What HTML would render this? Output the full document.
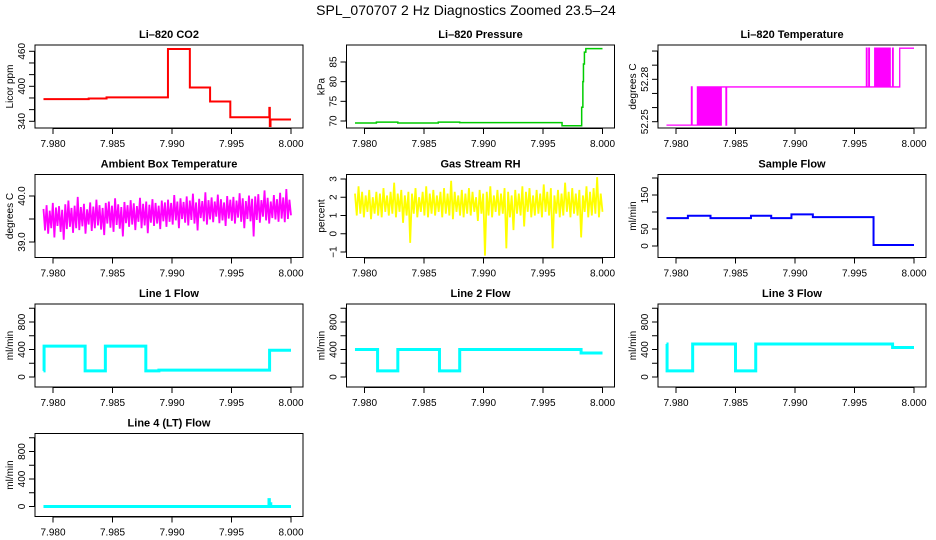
<!DOCTYPE html>
<html><head><meta charset="utf-8">
<style>
html,body{margin:0;padding:0;background:#fff;}
svg{display:block;font-family:"Liberation Sans",sans-serif;}
</style></head>
<body>
<svg id="fig" width="936" height="540" xmlns="http://www.w3.org/2000/svg">
<rect width="936" height="540" fill="#fff"/>
<text x="466" y="15" text-anchor="middle" font-size="14">SPL_070707  2 Hz Diagnostics Zoomed 23.5–24</text>
</svg>
<script>
// ---- data ----
const xTicks = [7.980, 7.985, 7.990, 7.995, 8.000];
const xTickLabels = ["7.980", "7.985", "7.990", "7.995", "8.000"];
const tStart = 7.9792, tEnd = 8.000;

const co2Times = [7.9792, 7.9830, 7.9845, 7.98966, 7.9915, 7.9932, 7.9949, 7.99818, 7.99822, 7.99828];
const co2Vals  = [378, 379, 381, 464, 398, 374, 347, 363, 332, 343];

const presTimes = [7.9792, 7.9810, 7.9828, 7.9862, 7.9880, 7.9966, 7.99825, 7.99835, 7.9984, 7.99848, 7.9986];
const presVals  = [69.5, 69.7, 69.5, 69.7, 69.6, 68.8, 73.5, 80, 84.5, 87.5, 88.4];

const tempTimes = [7.9792, 7.9813, 7.98135, 7.9818, 7.9819, 7.9820, 7.9821, 7.9822, 7.9823, 7.9824, 7.9825, 7.9826, 7.9827, 7.9828, 7.9829, 7.9830, 7.9831, 7.9832, 7.9833, 7.9834, 7.9835, 7.9836, 7.9837, 7.9838, 7.9842, 7.98425,
  7.9960, 7.99605, 7.9962, 7.99625, 7.9967, 7.9968, 7.9969, 7.9970, 7.9971, 7.9972, 7.9973, 7.9974, 7.9975, 7.9976, 7.9977, 7.9978, 7.9979, 7.9980, 7.9982, 7.99825, 7.9988, 7.99885];
const tempVals  = [52.2476, 52.2746, 52.2476, 52.2746, 52.2476, 52.2746, 52.2476, 52.2746, 52.2476, 52.2746, 52.2476, 52.2746, 52.2476, 52.2746, 52.2476, 52.2746, 52.2476, 52.2746, 52.2476, 52.2746, 52.2476, 52.2746, 52.2476, 52.2746, 52.2476, 52.2746,
  52.302, 52.2746, 52.302, 52.2746, 52.302, 52.2746, 52.302, 52.2746, 52.302, 52.2746, 52.302, 52.2746, 52.302, 52.2746, 52.302, 52.2746, 52.302, 52.2746, 52.302, 52.2746, 52.302, 52.302];

const ambVals = [39.72,39.25,39.80,39.18,39.68,39.30,39.85,39.10,39.75,39.35,39.78,39.22,39.70,39.05,39.82,39.28,39.90,39.33,39.74,39.20,39.79,39.30,39.98,39.26,39.76,39.34,39.83,39.18,39.71,39.38,39.86,39.24,39.77,39.30,39.92,39.36,39.80,39.27,39.74,39.15,39.85,39.40,39.88,39.31,39.79,39.22,39.95,39.37,39.82,39.29,39.76,39.12,39.87,39.41,39.80,39.33,39.91,39.38,39.84,39.26,39.78,39.44,39.96,39.30,39.83,39.36,39.88,39.19,39.81,39.42,39.93,39.35,39.85,39.40,39.79,39.28,39.90,39.45,39.86,39.33,
39.92,39.44,39.85,39.38,40.02,39.47,39.88,39.30,39.95,39.50,39.87,39.42,39.99,39.36,39.90,39.48,40.05,39.40,39.86,39.25,39.94,39.52,39.89,39.45,40.08,39.38,39.91,39.49,39.97,39.43,39.88,39.55,40.03,39.41,39.93,39.47,39.86,39.35,40.00,39.51,39.92,39.46,39.98,39.40,39.90,39.53,40.06,39.44,39.95,39.30,39.89,39.50,40.01,39.45,39.94,39.12,39.99,39.48,40.04,39.42,39.91,39.55,40.12,39.47,39.96,39.40,39.88,39.52,40.02,39.49,39.93,39.44,40.07,39.51,39.97,39.43,40.15,39.50,39.92,39.58];

const rhVals = [2.2,1.0,2.6,1.1,2.3,0.9,2.1,1.2,2.4,0.8,2.0,1.1,2.3,1.0,2.2,0.9,2.5,1.2,2.1,1.0,2.3,1.1,2.8,0.9,2.2,1.2,2.4,0.6,2.1,1.0,2.3,-0.5,2.2,1.1,2.5,0.9,2.0,1.2,2.3,1.0,2.6,0.9,2.2,1.1,2.4,1.0,2.1,1.2,2.3,0.9,2.5,1.1,2.2,1.0,2.9,0.8,2.3,1.2,2.1,1.0,2.4,0.9,2.2,1.1,2.5,1.0,2.3,1.2,2.0,0.7,2.4,1.1,2.2,-1.2,2.3,1.0,2.6,0.9,2.1,1.2,
2.4,1.0,2.2,1.1,2.5,-0.8,2.3,0.9,2.1,0.2,2.4,1.1,2.2,1.0,2.6,0.4,2.3,1.2,2.5,0.9,2.1,1.0,2.4,1.1,2.2,0.9,2.7,1.2,2.3,1.0,2.5,-0.8,2.1,1.1,2.4,0.9,2.2,1.0,2.8,1.2,2.3,0.9,2.5,1.1,2.2,1.0,2.4,-0.2,2.1,1.2,2.6,0.9,2.3,1.0,2.5,1.1,3.1,0.9,2.2,1.2];

const sampTimes = [7.9792, 7.9810, 7.9829, 7.9863, 7.9880, 7.9897, 7.9915, 7.9966];
const sampVals  = [82, 89, 82, 89, 82, 93, 85, 3];

const l1Times = [7.9792, 7.97925, 7.9827, 7.9844, 7.9878, 7.9889, 7.9982];
const l1Vals  = [90, 450, 90, 450, 90, 100, 390];

const l2Times = [7.9792, 7.9811, 7.9828, 7.9863, 7.9880, 7.9982];
const l2Vals  = [400, 90, 400, 90, 400, 350];

const l3Times = [7.9792, 7.97925, 7.9814, 7.9850, 7.9867, 7.9982];
const l3Vals  = [480, 90, 480, 90, 480, 430];

const l4Times = [7.9792, 7.99815, 7.99818, 7.99825, 7.9983];
const l4Vals  = [0, 100, 0, 40, 0];

// ---- layout ----
const NS = "http://www.w3.org/2000/svg";
const svg = document.getElementById('fig');
const colLeft = [35, 346.5, 658], rowTop = [45, 174.5, 304, 433.5];
const W = 268, H = 83;
function mk(tag, attrs, parent) {
  const e = document.createElementNS(NS, tag);
  for (const k in attrs) e.setAttribute(k, attrs[k]);
  (parent || svg).appendChild(e);
  return e;
}
function slug(s){return s.toLowerCase().replace(/[^a-z0-9]+/g,'-').replace(/^-|-$/g,'');}

function panel(col, row, title, ylab, ref, ticks, labels, series) {
  const L = colLeft[col], T = rowTop[row];
  const g = mk('g', {});
  
  
  const xs = t => L + 18 + (t - 7.980) * 11900;
  const k = (ref[3] - ref[1]) / (ref[2] - ref[0]);
  const ys = v => T + ref[1] + (v - ref[0]) * k;
  const s = series(xs, ys);
  const p = mk('path', {d: s.d, fill: 'none', stroke: s.color, 'stroke-width': s.w, 'stroke-linejoin': 'miter'}, g);
  
  
  const b = mk('rect', {x: L, y: T, width: W, height: H, fill: 'none', stroke: '#000', 'stroke-width': 1}, g);
  
  
  const tt = mk('text', {x: L + W / 2, y: T - 7, 'text-anchor': 'middle', 'font-size': 11, 'font-weight': 'bold'}, g);
  tt.textContent = title;
  
  
  mk('line', {x1: xs(xTicks[0]), x2: xs(xTicks[xTicks.length - 1]), y1: T + H + 0.5, y2: T + H + 0.5, stroke: '#000'}, g);
  xTicks.forEach((t, i) => {
    mk('line', {x1: xs(t), x2: xs(t), y1: T + H, y2: T + H + 6, stroke: '#000'}, g);
    const lb = mk('text', {x: xs(t), y: T + H + 19, 'text-anchor': 'middle', 'font-size': 10}, g);
    lb.textContent = xTickLabels[i];
    
    
  });
  mk('line', {x1: L - 0.5, x2: L - 0.5, y1: ys(ticks[0]), y2: ys(ticks[ticks.length - 1]), stroke: '#000'}, g);
  ticks.forEach((v, i) => {
    mk('line', {x1: L - 6, x2: L, y1: ys(v), y2: ys(v), stroke: '#000'}, g);
    if (labels[i]) {
      const lb = mk('text', {x: 0, y: 0, 'text-anchor': 'middle', 'font-size': 10, transform: `translate(${L - 10},${ys(v)}) rotate(-90)`}, g);
      lb.textContent = labels[i];
      
      
    }
  });
  const yl = mk('text', {x: 0, y: 0, 'text-anchor': 'middle', 'font-size': 10, transform: `translate(${L - 22},${T + H / 2}) rotate(-90)`}, g);
  yl.textContent = ylab;
  
  
}
function stepPath(times, vals) {
  return (xs, ys) => {
    let d = `M${xs(times[0])},${ys(vals[0])}`;
    for (let i = 1; i < times.length; i++) d += `H${xs(times[i])}V${ys(vals[i])}`;
    d += `H${xs(tEnd)}`;
    return d;
  };
}
function noisePath(vals) {
  return (xs, ys) => {
    let d = '';
    vals.forEach((v, i) => {
      const t = tStart + (tEnd - tStart) * i / (vals.length - 1);
      d += (i ? 'L' : 'M') + xs(t) + ',' + ys(v);
    });
    return d;
  };
}
const S = (f, color, w) => (xs, ys) => ({d: f(xs, ys), color, w});

panel(0, 0, 'Li–820 CO2', 'Licor ppm', [460, 6.3, 340, 76.3],
  [340, 360, 380, 400, 420, 440, 460], ['340', '', '', '400', '', '', '460'],
  S(stepPath(co2Times, co2Vals), '#ff0000', 2));
panel(1, 0, 'Li–820 Pressure', 'kPa', [85, 17, 70, 76],
  [70, 75, 80, 85], ['70', '75', '80', '85'],
  S(stepPath(presTimes, presVals), '#00cc00', 1.5));
panel(2, 0, 'Li–820 Temperature', 'degrees C', [52.28, 34.3, 52.25, 76.7],
  [52.25, 52.26, 52.27, 52.28, 52.29, 52.30], ['52.25', '', '', '52.28', '', ''],
  S(stepPath(tempTimes, tempVals), '#ff00ff', 1.3));
panel(0, 1, 'Ambient Box Temperature', 'degrees C', [40.0, 21.5, 39.0, 67.5],
  [39.0, 39.5, 40.0], ['39.0', '', '40.0'],
  S(noisePath(ambVals), '#ff00ff', 1.8));
panel(1, 1, 'Gas Stream RH', 'percent', [3, 4.5, -1, 77.5],
  [-1, 0, 1, 2, 3], ['−1', '0', '1', '2', '3'],
  S(noisePath(rhVals), '#ffff00', 1.8));
panel(2, 1, 'Sample Flow', 'ml/min', [150, 20.5, 0, 71.5],
  [0, 50, 100, 150, 200], ['0', '50', '', '150', ''],
  S(stepPath(sampTimes, sampVals), '#0000ff', 2));
const flowTicks = [0, 200, 400, 600, 800, 1000], flowLabels = ['0', '', '400', '', '800', ''];
panel(0, 2, 'Line 1 Flow', 'ml/min', [800, 18, 0, 73], flowTicks, flowLabels, S(stepPath(l1Times, l1Vals), '#00ffff', 3));
panel(1, 2, 'Line 2 Flow', 'ml/min', [800, 18, 0, 73], flowTicks, flowLabels, S(stepPath(l2Times, l2Vals), '#00ffff', 3));
panel(2, 2, 'Line 3 Flow', 'ml/min', [800, 18, 0, 73], flowTicks, flowLabels, S(stepPath(l3Times, l3Vals), '#00ffff', 3));
panel(0, 3, 'Line 4 (LT) Flow', 'ml/min', [800, 18, 0, 73], flowTicks, flowLabels, S(stepPath(l4Times, l4Vals), '#00ffff', 3));
</script>
</body></html>
